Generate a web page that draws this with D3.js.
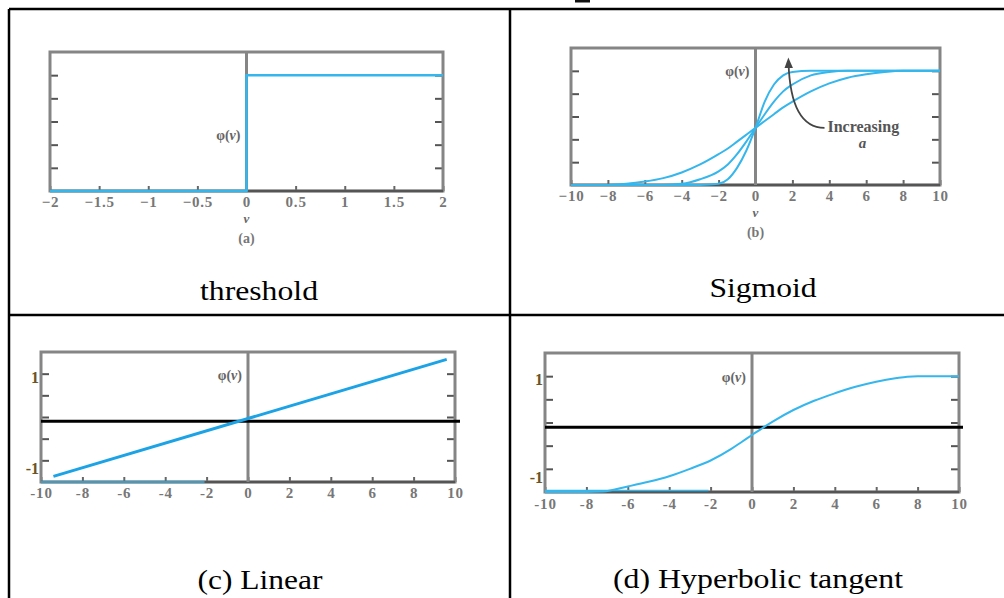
<!DOCTYPE html>
<html>
<head>
<meta charset="utf-8">
<script src="https://cdn.jsdelivr.net/npm/d3@7"></script>
<style>
  body { margin: 0; background: #fff; }
  svg text { font-family: "Liberation Serif", "Times New Roman", serif; }
</style>
</head>
<body>
<div id="chart"></div>
<script>
// ---- data ----
const thresholdV = [-2, 0, 0, 2];
const thresholdPhi = [0, 0, 1, 1];

const sigmoidV = [-10, -8, -7, -6, -5, -4, -3, -2, -1.5, -1, -0.5, 0, 0.5, 1, 1.5, 2, 3, 4, 5, 6, 7, 8, 9, 10];
const sigmoidSteep  = [0, 0, 0, 0, 0, 0, 0, 0.01, 0.05, 0.15, 0.3, 0.5, 0.73, 0.88, 0.96, 0.99, 1, 1, 1, 1, 1, 1, 1, 1];
const sigmoidMiddle = [0, 0, 0, 0, 0, 0.01, 0.05, 0.12, 0.18, 0.27, 0.38, 0.5, 0.62, 0.73, 0.82, 0.88, 0.96, 0.99, 1, 1, 1, 1, 1, 1];
const sigmoidGentle = [0, 0, 0.01, 0.03, 0.06, 0.11, 0.18, 0.27, 0.32, 0.38, 0.44, 0.5, 0.56, 0.62, 0.68, 0.73, 0.82, 0.89, 0.94, 0.97, 0.99, 1, 1, 1];

const linearV = [-9.4, 9.6];
const linearPhi = [-1.37, 1.33];

const tanhV   = [-10, -8, -7.2, -6, -5, -4, -3, -2, -1, -0.5, 0, 0.5, 1, 2, 3, 4, 5, 6, 7, 7.5, 8, 10];
const tanhPhi = [-1.5, -1.5, -1.49, -1.38, -1.28, -1.16, -1.0, -0.82, -0.57, -0.42, -0.27, -0.12, 0.02, 0.27, 0.47, 0.63, 0.77, 0.88, 0.96, 0.99, 1, 1];

// leftover trace along the bottom of (c) and (d)
const residualV = [-10, -2.1];
const baselinePhi = -0.1;

const ticksA = [-2, -1.5, -1, -0.5, 0, 0.5, 1, 1.5, 2];
const ticksWide = [-10, -8, -6, -4, -2, 0, 2, 4, 6, 8, 10];
const yTicksUnit = [0.2, 0.4, 0.6, 0.8, 1.0];
const yTicksSym = [-1, -0.5, 0, 0.5, 1];
const yLabelsSym = [1, -1];

const captions = ["threshold", "Sigmoid", "(c) Linear", "(d) Hyperbolic tangent"];

// ---- page ----
const W = 1004, H = 598;
const blue = "#35b6ec";
const gray = "#858585";

const svg = d3.select("#chart").append("svg")
  .attr("width", W).attr("height", H);

// table grid
svg.append("g").attr("stroke", "#000").attr("stroke-width", 2.5)
  .selectAll("line")
  .data([[9, 9, 1004, 9], [9, 9, 9, 598], [510, 9, 510, 598], [9, 315, 1004, 315]])
  .enter().append("line")
  .attr("x1", d => d[0]).attr("y1", d => d[1]).attr("x2", d => d[2]).attr("y2", d => d[3]);
svg.append("rect").attr("x", 575).attr("y", 0).attr("width", 15).attr("height", 2.5).attr("fill", "#111");

// captions (the source image is stretched a little sideways)
const capPos = [[259, 300, 118], [763, 297, 107], [260, 589, 125], [758, 588, 290]];
svg.selectAll("text.cap").data(captions).enter().append("text")
  .attr("class", "cap")
  .attr("x", (d, i) => capPos[i][0] - capPos[i][2] / 2).attr("y", (d, i) => capPos[i][1])
  .attr("textLength", (d, i) => capPos[i][2]).attr("lengthAdjust", "spacingAndGlyphs")
  .attr("font-size", 27).attr("fill", "#000")
  .text(d => d);

function panel(cfg) {
  const g = svg.append("g");
  const x = d3.scaleLinear().domain(cfg.xDomain).range([cfg.x0, cfg.x1]);
  const y = d3.scaleLinear().domain(cfg.yDomain).range([cfg.y1, cfg.y0]);

  // tick marks inside the box
  g.append("g").attr("transform", `translate(${cfg.x0},0)`)
    .call(d3.axisLeft(y).tickValues(cfg.yTicks).tickSize(-8).tickFormat(""))
    .call(a => a.select(".domain").remove())
    .call(a => a.selectAll("line").attr("stroke", "#555").attr("stroke-width", 2));
  g.append("g").attr("transform", `translate(${cfg.x1},0)`)
    .call(d3.axisRight(y).tickValues(cfg.yTicks).tickSize(-8).tickFormat(""))
    .call(a => a.select(".domain").remove())
    .call(a => a.selectAll("line").attr("stroke", "#555").attr("stroke-width", 2));
  g.append("g").attr("transform", `translate(0,${cfg.y1})`)
    .call(d3.axisBottom(x).tickValues(cfg.xTicks).tickSize(-5).tickPadding(cfg.pad)
      .tickFormat(cfg.xFormat))
    .call(a => a.select(".domain").remove())
    .call(a => a.selectAll("line").attr("stroke", "#666").attr("stroke-width", 2))
    .call(a => a.selectAll("text").attr("font-size", 15).attr("fill", "#777")
      .attr("font-weight", "bold")
      .attr("font-family", "Liberation Serif, serif").attr("letter-spacing", 0.8));

  // box and zero line
  g.append("rect").attr("x", cfg.x0).attr("y", cfg.y0)
    .attr("width", cfg.x1 - cfg.x0).attr("height", cfg.y1 - cfg.y0)
    .attr("fill", "none").attr("stroke", gray).attr("stroke-width", 3);
  g.append("line").attr("x1", cfg.x0).attr("x2", cfg.x1).attr("y1", cfg.y1).attr("y2", cfg.y1)
    .attr("stroke", "#555").attr("stroke-width", 2.5);
  g.append("line").attr("x1", x(0)).attr("x2", x(0)).attr("y1", cfg.y0).attr("y2", cfg.y1)
    .attr("stroke", gray).attr("stroke-width", 3);

  // phi(v) label
  const lab = g.append("text").attr("x", x(0) - 6).attr("y", y(cfg.phiAt) + 5)
    .attr("text-anchor", "end").attr("font-size", 14).attr("font-weight", "bold").attr("fill", "#666");
  lab.append("tspan").text("φ(");
  lab.append("tspan").attr("font-style", "italic").text("v");
  lab.append("tspan").text(")");

  if (cfg.letter) {
    g.append("text").attr("x", x(0)).attr("y", cfg.y1 + 32)
      .attr("text-anchor", "middle").attr("font-size", 13).attr("font-style", "italic")
      .attr("font-weight", "bold").attr("fill", "#666").text("v");
    g.append("text").attr("x", x(0)).attr("y", cfg.y1 + 52)
      .attr("text-anchor", "middle").attr("font-size", 14).attr("font-weight", "bold")
      .attr("fill", "#777").text(cfg.letter);
  }

  if (cfg.yLabels) {
    g.selectAll("text.ylab").data(cfg.yLabels).enter().append("text")
      .attr("class", "ylab")
      .attr("x", cfg.x0 - 2).attr("y", d => y(d) + (d > 0 ? 9 : 14))
      .attr("text-anchor", "end").attr("font-size", 16).attr("font-weight", "bold")
      .attr("fill", "#6b5424")
      .text(d => d > 0 ? "1" : "-1");
  }
  return { g, x, y };
}

const line = (x, y) => d3.line().x(d => x(d[0])).y(d => y(d[1])).curve(d3.curveMonotoneX);
const dashFmt = d => d3.format("d")(d).replace("−", "-");

// (a) threshold
{
  const { g, x, y } = panel({
    x0: 50, x1: 443, y0: 52, y1: 191, xDomain: [-2, 2], yDomain: [0, 1.2],
    xTicks: ticksA, yTicks: yTicksUnit, pad: 5, xFormat: d3.format("~g"),
    phiAt: 0.48, letter: "(a)"
  });
  g.append("path").datum(thresholdV.map((v, i) => [v, thresholdPhi[i]]))
    .attr("d", d3.line().x(d => x(d[0])).y(d => y(d[1])))
    .attr("fill", "none").attr("stroke", blue).attr("stroke-width", 2.5);
}

// (b) sigmoid
{
  const { g, x, y } = panel({
    x0: 571, x1: 940, y0: 48, y1: 185, xDomain: [-10, 10], yDomain: [0, 1.2],
    xTicks: ticksWide, yTicks: yTicksUnit, pad: 5, xFormat: d3.format("~g"),
    phiAt: 1.0, letter: "(b)"
  });
  [sigmoidGentle, sigmoidMiddle, sigmoidSteep].forEach(s => {
    g.append("path").datum(sigmoidV.map((v, i) => [v, s[i]]))
      .attr("d", line(x, y))
      .attr("fill", "none").attr("stroke", blue).attr("stroke-width", 2);
  });
  svg.append("defs").append("marker").attr("id", "arr")
    .attr("viewBox", "0 0 10 10").attr("refX", 5).attr("refY", 5)
    .attr("markerWidth", 6).attr("markerHeight", 7).attr("orient", "auto")
    .append("path").attr("d", "M0,1 L10,5 L0,9 Z").attr("fill", "#444");
  g.append("path")
    .attr("d", `M${x(3.74)},${y(0.5)} Q${x(1.9)},${y(0.5)} ${x(1.79)},${y(1.07)}`)
    .attr("fill", "none").attr("stroke", "#444").attr("stroke-width", 1.8)
    .attr("marker-end", "url(#arr)");
  g.append("text").attr("x", x(3.9)).attr("y", y(0.46))
    .attr("font-size", 16).attr("font-weight", "bold").attr("fill", "#555").text("Increasing");
  g.append("text").attr("x", x(5.8)).attr("y", y(0.32)).attr("text-anchor", "middle")
    .attr("font-size", 15).attr("font-style", "italic").attr("font-weight", "bold")
    .attr("fill", "#555").text("a");
}

// (c) linear
{
  const { g, x, y } = panel({
    x0: 41, x1: 455, y0: 352, y1: 482, xDomain: [-10, 10], yDomain: [-1.5, 1.5],
    xTicks: ticksWide, yTicks: yTicksSym, pad: 5, xFormat: dashFmt,
    phiAt: 0.97, yLabels: yLabelsSym
  });
  g.append("path").datum(residualV.map(v => [v, -1.5]))
    .attr("d", line(x, y)).attr("fill", "none").attr("stroke", blue).attr("stroke-width", 1.5);
  g.append("line").attr("x1", x(-10)).attr("x2", x(10) + 5)
    .attr("y1", y(baselinePhi)).attr("y2", y(baselinePhi))
    .attr("stroke", "#000").attr("stroke-width", 3);
  g.append("path").datum(linearV.map((v, i) => [v, linearPhi[i]]))
    .attr("d", line(x, y)).attr("fill", "none").attr("stroke", "#1ca3e6").attr("stroke-width", 3);
}

// (d) hyperbolic tangent
{
  const { g, x, y } = panel({
    x0: 545, x1: 959, y0: 353, y1: 492, xDomain: [-10, 10], yDomain: [-1.5, 1.5],
    xTicks: ticksWide, yTicks: yTicksSym, pad: 6, xFormat: dashFmt,
    phiAt: 0.98, yLabels: yLabelsSym
  });
  g.append("path").datum(residualV.map(v => [v, -1.47]))
    .attr("d", line(x, y)).attr("fill", "none").attr("stroke", blue).attr("stroke-width", 1.5);
  g.append("line").attr("x1", x(-10)).attr("x2", x(10) + 4)
    .attr("y1", y(baselinePhi)).attr("y2", y(baselinePhi))
    .attr("stroke", "#000").attr("stroke-width", 3);
  g.append("path").datum(tanhV.map((v, i) => [v, tanhPhi[i]]))
    .attr("d", line(x, y)).attr("fill", "none").attr("stroke", blue).attr("stroke-width", 2);
}
</script>
</body>
</html>
